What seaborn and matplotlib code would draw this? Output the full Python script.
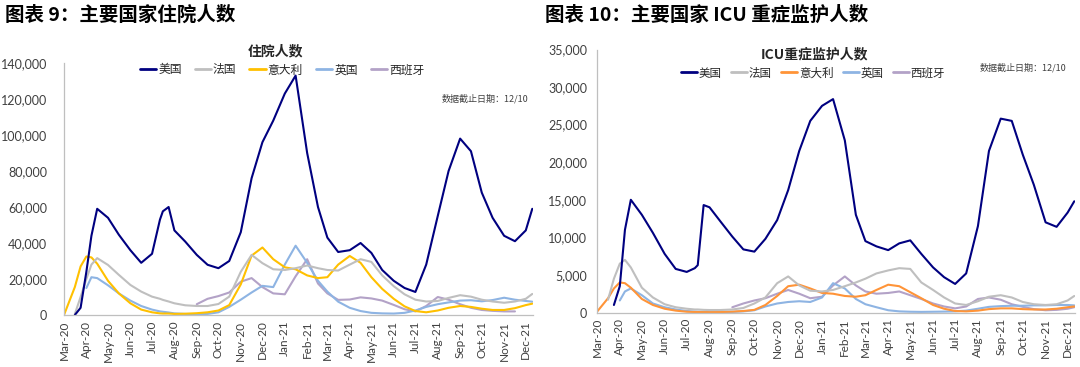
import numpy as np
import pandas as pd
import seaborn as sns
import matplotlib.pyplot as plt
from matplotlib.ticker import FuncFormatter
from matplotlib.lines import Line2D
import matplotlib.dates as mdates

# dates of the readings (roughly twice a month, a few extra around sharp moves)
dates = ['2020-03-01', '2020-03-16', '2020-03-24', '2020-04-01', '2020-04-08', '2020-04-16',
         '2020-05-01', '2020-05-16', '2020-06-01', '2020-06-16', '2020-07-01', '2020-07-12',
         '2020-07-16', '2020-07-24', '2020-08-01', '2020-08-16', '2020-09-01', '2020-09-16',
         '2020-10-01', '2020-10-16', '2020-11-01', '2020-11-16', '2020-12-01', '2020-12-16',
         '2021-01-01', '2021-01-16', '2021-02-01', '2021-02-16', '2021-03-01', '2021-03-16',
         '2021-04-01', '2021-04-16', '2021-05-01', '2021-05-16', '2021-06-01', '2021-06-16',
         '2021-07-01', '2021-07-16', '2021-08-01', '2021-08-16', '2021-09-01', '2021-09-16',
         '2021-10-01', '2021-10-16', '2021-11-01', '2021-11-16', '2021-12-01', '2021-12-10']

countries = ['美国', '法国', '意大利', '英国', '西班牙']
nan = np.nan

# hospitalised, thousands
hosp_us = [nan, 0, 4, 24, 44, 59, 54, 44.6, 36, 29, 34, 53, 57.6, 60, 47, 40.8, 33.4, 27.9, 26, 30, 46, 76, 96, 108,
           123, 133, 90, 60, 43, 35, 36, 40, 34.5, 25, 19, 15, 12.8, 28, 55, 80, 98, 91, 68, 54, 44, 41, 47, 59]
hosp_fr = [nan, 0.5, 10, 20, 28, 31.6, 27.8, 22.3, 16.7, 13, 10.2, 9, 8.4, 7.5, 6.5, 5.4, 5, 5, 6.1, 10.2, 24, 33.4, 28.8, 25.4,
           25, 26, 27.5, 26, 25, 24.7, 28, 31, 29.5, 22, 16, 11.5, 8.5, 7.5, 7.8, 9.5, 11, 10.2, 8.5, 7.5, 6.8, 7.5, 9, 11.7]
hosp_it = [0, 15.5, 27, 32.5, 32, 28.5, 19, 12, 6.5, 3, 1.5, 0.9, 0.8, 0.8, 0.6, 0.7, 1.0, 1.5, 2.5, 5.5, 17, 33, 37.5, 31,
           26.5, 25.4, 22, 20.5, 21, 28, 32.8, 29, 21, 14.5, 9, 4.8, 2.2, 1.5, 2.5, 4, 5, 4.5, 3.5, 2.8, 2.8, 3.8, 5.5, 6.3]
hosp_uk = [nan, nan, nan, 15, 21, 20.5, 16.5, 12, 8, 5, 3, 2, 1.8, 1.4, 0.9, 0.6, 0.5, 0.6, 1.5, 4.5, 8.5, 12.5, 16.2, 15.5,
           28, 38.5, 29, 19, 13, 7.4, 4, 2.2, 1.2, 0.9, 0.8, 1.2, 2.5, 4.5, 6, 7, 8, 8.2, 7.6, 8.3, 9.6, 8.5, 7.8, 7.4]
hosp_es = [nan, nan, nan, nan, nan, nan, nan, nan, nan, nan, nan, nan, nan, nan, nan, nan, 6, 9, 10.5, 12.5, 18.5, 20.5, 15.5, 12,
           11.5, 21.5, 31, 17.5, 12, 8.4, 8.6, 9.8, 9.2, 8, 5.6, 3.2, 2.0, 5, 10, 8.5, 6, 4, 2.8, 2.3, 2, 2, nan, nan]

# intensive care, thousands
icu_us = [nan, nan, 1.0, 3.5, 11, 15, 13, 10.6, 7.8, 5.8, 5.4, 5.9, 6.3, 14.3, 14, 12.1, 10.1, 8.4, 8.1, 9.8, 12.3, 16.3, 21.5, 25.5,
          27.5, 28.4, 22.9, 13, 9.5, 8.8, 8.3, 9.2, 9.6, 7.8, 6, 4.7, 3.8, 5.2, 11.5, 21.5, 25.8, 25.5, 21, 17, 12, 11.4, 13.3, 14.8]
icu_fr = [nan, 1.7, 4.5, 6.5, 7, 6, 3.3, 2, 1.1, 0.7, 0.5, 0.4, 0.4, 0.35, 0.33, 0.33, 0.4, 0.6, 1.2, 2, 3.9, 4.8, 3.6, 2.9,
          2.8, 3, 3.5, 4, 4.5, 5.2, 5.6, 5.9, 5.8, 4.0, 3.0, 2.0, 1.2, 1.0, 1.5, 2.1, 2.3, 2.0, 1.4, 1.1, 1.0, 1.1, 1.6, 2.2]
icu_it = [0.1, 1.9, 3.2, 4.0, 3.9, 3.3, 1.8, 1.0, 0.5, 0.25, 0.1, 0.07, 0.06, 0.05, 0.05, 0.06, 0.12, 0.2, 0.35, 1.0, 2.2, 3.5, 3.7, 3.2,
          2.6, 2.5, 2.2, 2.1, 2.3, 3.0, 3.7, 3.5, 2.7, 1.9, 1.0, 0.5, 0.2, 0.15, 0.25, 0.45, 0.55, 0.55, 0.45, 0.4, 0.4, 0.5, 0.7, 0.8]
icu_uk = [nan, nan, nan, 1.6, 2.8, 3.2, 2.3, 1.2, 0.7, 0.4, 0.2, 0.12, 0.1, 0.08, 0.07, 0.07, 0.08, 0.15, 0.3, 0.8, 1.2, 1.4, 1.5, 1.4,
          2.0, 3.9, 3.2, 1.8, 1.1, 0.7, 0.3, 0.15, 0.1, 0.08, 0.1, 0.12, 0.15, 0.25, 0.5, 0.75, 0.85, 0.9, 0.9, 0.95, 0.95, 1.0, 1.0, 0.95]
icu_es = [nan, nan, nan, nan, nan, nan, nan, nan, nan, nan, nan, nan, nan, nan, nan, nan, 0.7, 1.2, 1.6, 1.9, 2.5, 3.0, 2.5, 1.9,
          2.1, 3.6, 4.8, 3.6, 2.8, 2.5, 2.6, 2.8, 2.3, 1.8, 1.2, 0.8, 0.55, 0.8, 1.8, 2.0, 1.7, 1.1, 0.75, 0.45, 0.3, 0.35, 0.5, 0.7]

colors_l = {'美国': '#000080', '法国': '#BFBFBF', '意大利': '#FFC000', '英国': '#8EB4E3', '西班牙': '#B3A2C7'}
colors_r = {'美国': '#000080', '法国': '#BFBFBF', '意大利': '#FF9438', '英国': '#8EB4E3', '西班牙': '#B3A2C7'}


def long_df(series):
    frames = []
    for name, vals in zip(countries, series):
        frames.append(pd.DataFrame({'date': pd.to_datetime(dates),
                                    'value': np.array(vals, dtype=float) * 1000,
                                    'country': name}))
    return pd.concat(frames).dropna()


hosp = long_df([hosp_us, hosp_fr, hosp_it, hosp_uk, hosp_es])
icu = long_df([icu_us, icu_fr, icu_it, icu_uk, icu_es])

sns.set_style('white')
plt.rcParams['font.family'] = ['Lato', 'Noto Sans CJK SC', 'DejaVu Sans']
cjk = ['Noto Sans CJK SC', 'DejaVu Sans']

fig = plt.figure(figsize=(10.8, 3.67), dpi=100)
ax1 = fig.add_axes([64 / 1080, 52 / 367, 469 / 1080, 252 / 367])
ax2 = fig.add_axes([597 / 1080, 54.5 / 367, 478 / 1080, 263 / 367])


def draw(ax, df, pal, ymax, ystep, ypad):
    # US last so it sits on top
    for c in countries[::-1]:
        sns.lineplot(data=df[df.country == c], x='date', y='value', color=pal[c],
                     linewidth=1.5, ax=ax, legend=False, errorbar=None)
    ax.set_xlim(pd.Timestamp('2020-03-01'), pd.Timestamp('2021-12-11'))
    ax.set_ylim(0, ymax)
    ax.set_yticks(np.arange(0, ymax + 1, ystep))
    ax.yaxis.set_major_formatter(FuncFormatter(lambda v, p: f'{v:,.0f}'))
    ax.xaxis.set_major_locator(mdates.MonthLocator())
    ax.xaxis.set_major_formatter(mdates.DateFormatter('%b-%y'))
    ax.set_xlabel('')
    ax.set_ylabel('')
    for s in ['top', 'right']:
        ax.spines[s].set_visible(False)
    for s in ['left', 'bottom']:
        ax.spines[s].set_color('#BFBFBF')
        ax.spines[s].set_linewidth(0.9)
    ax.tick_params(axis='x', direction='in', length=4, color='#BFBFBF', labelsize=8.5,
                   labelcolor='#404040', rotation=90, pad=4)
    ax.tick_params(axis='y', direction='in', length=4, color='#BFBFBF', labelsize=9,
                   labelcolor='#404040', pad=ypad)


draw(ax1, hosp, colors_l, 140000, 20000, 12)
draw(ax2, icu, colors_r, 35000, 5000, 7)

# headers
fig.text(5 / 1080, 1 - 15 / 367, '图表 9：主要国家住院人数', family=cjk, fontsize=14,
         fontweight='bold', va='center', ha='left', color='#000000')
fig.text(545 / 1080, 1 - 15 / 367, '图表 10：主要国家 ICU 重症监护人数', family=cjk, fontsize=14,
         fontweight='bold', va='center', ha='left', color='#000000')

# chart titles
fig.text(275 / 1080, 1 - 51 / 367, '住院人数', family=cjk, fontsize=10, fontweight='bold',
         ha='center', va='center', color='#262626')
fig.text(815 / 1080, 1 - 54 / 367, 'ICU重症监护人数', family=cjk, fontsize=10, fontweight='bold',
         ha='center', va='center', color='#262626')

# legends
handles_l = [Line2D([], [], color=colors_l[c], linewidth=2) for c in countries]
handles_r = [Line2D([], [], color=colors_r[c], linewidth=2) for c in countries]
fig.legend(handles_l, countries, loc='center', bbox_to_anchor=(282 / 1080, 1 - 70 / 367), ncol=5,
           frameon=False, prop={'family': cjk, 'size': 8.5}, handlelength=1.4, handletextpad=0.15,
           columnspacing=1.1, labelcolor='#262626')
fig.legend(handles_r, countries, loc='center', bbox_to_anchor=(813 / 1080, 1 - 73 / 367), ncol=5,
           frameon=False, prop={'family': cjk, 'size': 8.3}, handlelength=1.4, handletextpad=0.15,
           columnspacing=0.8, labelcolor='#262626')

# data cut-off notes
fig.text(442 / 1080, 1 - 99 / 367, '数据截止日期：12/10', family=cjk, fontsize=6.5,
         ha='left', va='center', color='#404040')
fig.text(980 / 1080, 1 - 68 / 367, '数据截止日期：12/10', family=cjk, fontsize=6.5,
         ha='left', va='center', color='#404040')

fig.savefig('out.png', dpi=100)
